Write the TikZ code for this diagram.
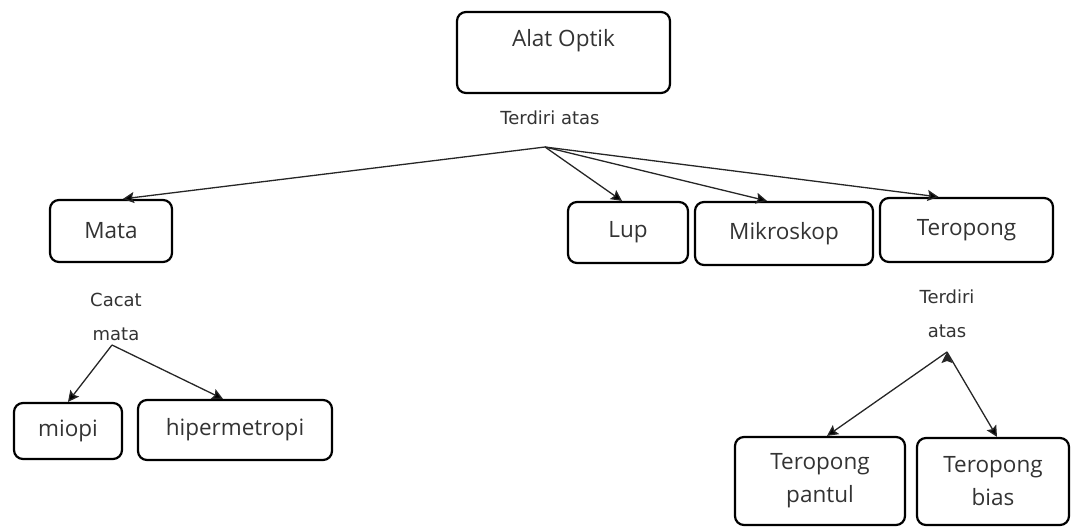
\documentclass[tikz,border=0pt]{standalone}
\usepackage{fontspec}
\setmainfont{Open Sans}
\newfontfamily\labelfont{DejaVu Sans}
\usepackage{tikz}
\usetikzlibrary{arrows.meta,shapes}

\begin{document}
\begin{tikzpicture}[x=1pt, y=-1pt, ->, >={Stealth[length=11pt,width=11pt,inset=2pt]}, semithick,
  box/.style={draw=black, line width=2.2pt, rounded corners=9pt, font=\fontsize{22.5}{26}\selectfont, text=black!80, align=center, inner sep=0pt},
  lbl/.style={font=\labelfont\fontsize{18}{34}\selectfont, align=center, inner sep=0pt, text=black!80},
  link/.style={draw=black!85, line width=1.3pt, line join=round}]
\useasboundingbox (0,0) rectangle (1071,527);

\node[box, minimum width=213, minimum height=81, text height=16pt, text depth=28pt] (optik) at (563.5,52.5) {Alat Optik};
\node[lbl] (terdiri1) at (550,118) {Terdiri atas};
\coordinate (split1) at (545,147);

\node[box, minimum width=122, minimum height=62] (mata) at (111,231) {Mata};
\node[box, minimum width=120, minimum height=61] (lup) at (628,232.5) {Lup};
\node[box, minimum width=178, minimum height=63] (mikro) at (784,233.5) {Mikroskop};
\node[box, minimum width=173, minimum height=64] (teropong) at (966.5,230) {Teropong};

\node[lbl] (cacat) at (116,317) {Cacat\\mata};
\coordinate (split2) at (112,345);
\node[box, minimum width=108, minimum height=56] (miopi) at (68,431) {miopi};
\node[box, minimum width=194, minimum height=60] (hiper) at (235,430) {hipermetropi};

\node[lbl] (terdiri2) at (947,314) {Terdiri\\atas};
\coordinate (split3) at (947,352);
\node[box, minimum width=170, minimum height=88, font=\fontsize{22.5}{33}\selectfont] (pantul) at (820,481) {Teropong\\pantul};
\node[box, minimum width=152, minimum height=87, font=\fontsize{22.5}{33}\selectfont] (bias) at (993,481.5) {Teropong\\bias};

\path[link]
(split1) edge ([xshift=12pt]mata.north)
(split1) edge ([xshift=-6pt]lup.north)
(split1) edge ([xshift=-17pt]mikro.north)
(split1) edge ([xshift=-28pt]teropong.north)

(split2) edge (miopi.north)
(split2) edge ([xshift=-12pt]hiper.north)

(split3) edge ([xshift=7pt]pantul.north)
(split3) edge ([xshift=4pt]bias.north);
\end{tikzpicture}
\end{document}
